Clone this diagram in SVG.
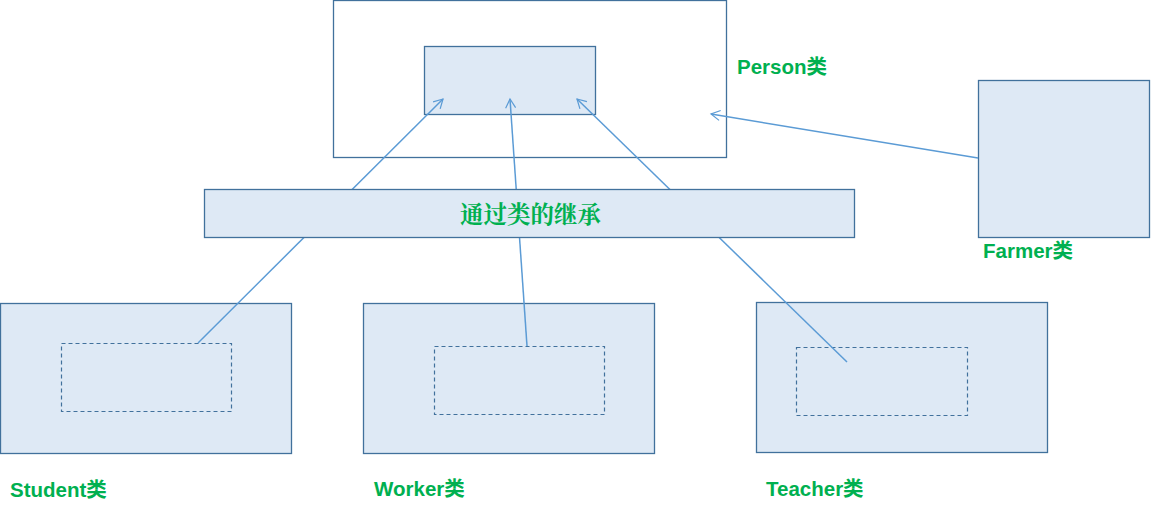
<svg xmlns="http://www.w3.org/2000/svg" width="1165" height="509" viewBox="0 0 1165 509">
<style>
.box{fill:#dee9f5;stroke:#41719c;stroke-width:1.3}
.outer{fill:#ffffff;stroke:#41719c;stroke-width:1.3}
.dash{fill:none;stroke:#41719c;stroke-width:1.2;stroke-dasharray:4 3}
.lbl{fill:#00b050;font-family:"Liberation Sans","Noto Sans CJK SC",sans-serif;font-weight:bold;font-size:20.5px}
.mid{fill:#00b050;font-family:"Noto Serif CJK SC","Noto Sans CJK SC",serif;font-weight:bold;font-size:23.5px}
.con{fill:none;stroke:#5b9bd5;stroke-width:1.5}
</style>
<defs>
<marker id="arr" markerWidth="12" markerHeight="12" refX="10" refY="6" orient="auto" markerUnits="userSpaceOnUse">
<path d="M1,1 L10,6 L1,11" fill="none" stroke="#5b9bd5" stroke-width="1.2"/>
</marker>
</defs>
<g id="person">
<rect class="outer" x="333.5" y="0.5" width="393" height="157"/>
<rect class="box" x="424.5" y="46.5" width="171" height="68"/>
<text class="lbl" x="737" y="74">Person类</text>
</g>
<g id="farmer">
<rect class="box" x="978.5" y="80.5" width="171" height="157"/>
<text class="lbl" x="983" y="258">Farmer类</text>
</g>
<g id="student">
<rect class="box" x="0.5" y="303.5" width="291" height="150"/>
<rect class="dash" x="61.5" y="343.5" width="170" height="68"/>
<text class="lbl" x="10" y="497">Student类</text>
</g>
<g id="worker">
<rect class="box" x="363.5" y="303.5" width="291" height="150"/>
<rect class="dash" x="434.5" y="346.5" width="170" height="68"/>
<text class="lbl" x="374" y="496">Worker类</text>
</g>
<g id="teacher">
<rect class="box" x="756.5" y="302.5" width="291" height="150"/>
<rect class="dash" x="796.5" y="347.5" width="171" height="68"/>
<text class="lbl" x="766" y="496">Teacher类</text>
</g>
<g id="connectors">
<line class="con" x1="198" y1="343" x2="443" y2="99" marker-end="url(#arr)"/>
<line class="con" x1="527" y1="346" x2="510" y2="99" marker-end="url(#arr)"/>
<line class="con" x1="847" y1="362" x2="577" y2="99" marker-end="url(#arr)"/>
<line class="con" x1="978" y1="158" x2="711" y2="114" marker-end="url(#arr)"/>
</g>
<g id="inherit">
<rect class="box" x="204.5" y="189.5" width="650" height="48"/>
<text class="mid" x="530.5" y="222.5" text-anchor="middle">通过类的继承</text>
</g>
</svg>
